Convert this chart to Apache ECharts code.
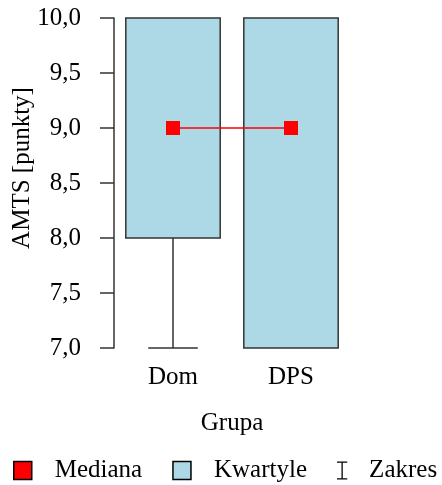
<!DOCTYPE html>
<html><head><meta charset="utf-8">
<script src="https://cdn.jsdelivr.net/npm/echarts@6/dist/echarts.min.js"></script>
<style>html,body{margin:0;padding:0;background:#fff}#c{width:442px;height:485px}</style>
</head><body><div id="c"></div>
<script>
var categories = ['Dom', 'DPS'];
var minVals = [7, 7];
var q1Vals = [8, 7];
var medianVals = [9, 9];
var q3Vals = [10, 10];
var maxVals = [10, 10];
var yTicks = { min: 7, max: 10, interval: 0.5 };

var FONT = 'Liberation Serif';
var FS = 25;
var chart = echarts.init(document.getElementById('c'), null, { renderer: 'canvas' });

var boxData = categories.map(function (c, i) { return [i, q1Vals[i], q3Vals[i]]; });
var whiskerData = categories.map(function (c, i) { return [i, minVals[i], q1Vals[i], q3Vals[i], maxVals[i]]; });

chart.setOption({
  animation: false,
  grid: { left: 114, right: 92, top: 18, bottom: 137, containLabel: false },
  xAxis: {
    type: 'category', data: categories,
    axisLine: { show: false }, axisTick: { show: false },
    axisLabel: { fontFamily: FONT, fontSize: FS, color: '#000', margin: 17 },
    name: 'Grupa', nameLocation: 'middle', nameGap: 63,
    nameTextStyle: { fontFamily: FONT, fontSize: FS, color: '#000' }
  },
  yAxis: {
    type: 'value', min: yTicks.min, max: yTicks.max, interval: yTicks.interval,
    splitLine: { show: false },
    axisLine: { show: true, lineStyle: { color: '#333', width: 1.5 } },
    axisTick: { show: true, length: 14, lineStyle: { color: '#333', width: 1.5 } },
    axisLabel: { fontFamily: FONT, fontSize: FS, color: '#000', margin: 33,
      formatter: function (v) { return v.toFixed(1).replace('.', ','); } }
  },
  legend: {
    left: 13, top: 458, padding: 0, itemWidth: 18, itemHeight: 18, itemGap: 30,
    textStyle: { fontFamily: FONT, fontSize: FS, color: '#000', padding: [0, 0, 0, 18] },
    data: [
      { name: 'Mediana', icon: 'rect', itemStyle: { color: '#ff0000', borderColor: '#000', borderWidth: 1.5 } },
      { name: 'Kwartyle', icon: 'rect', itemStyle: { color: '#add8e6', borderColor: '#000', borderWidth: 1.5 } },
      { name: 'Zakres', icon: 'path://M3,-1.5H15V0H9.75V18H15V19.5H3V18H8.25V0H3Z',
        itemStyle: { color: '#000', borderWidth: 0 }, textStyle: { padding: [0, 0, 0, 13] } }
    ]
  },
  graphic: [{
    type: 'text', x: 22, y: 168, rotation: Math.PI / 2,
    style: { text: 'AMTS [punkty]', fontFamily: FONT, fontSize: FS, fill: '#000', align: 'center', verticalAlign: 'middle' }
  }],
  series: [
    {
      name: 'Zakres', type: 'custom', data: whiskerData, z: 1,
      itemStyle: { color: '#000' },
      renderItem: function (params, api) {
        var x = api.value(0);
        var pMin = api.coord([x, api.value(1)]);
        var pQ1 = api.coord([x, api.value(2)]);
        var pQ3 = api.coord([x, api.value(3)]);
        var pMax = api.coord([x, api.value(4)]);
        var band = api.size([1, 0])[0];
        var half = band * 0.21;
        var children = [];
        var st = { stroke: '#333', lineWidth: 1.5 };
        if (api.value(1) < api.value(2)) {
          children.push({ type: 'line', shape: { x1: pMin[0], y1: pMin[1], x2: pQ1[0], y2: pQ1[1] }, style: st });
          children.push({ type: 'line', shape: { x1: pMin[0] - half, y1: pMin[1], x2: pMin[0] + half, y2: pMin[1] }, style: st });
        }
        if (api.value(4) > api.value(3)) {
          children.push({ type: 'line', shape: { x1: pMax[0], y1: pMax[1], x2: pQ3[0], y2: pQ3[1] }, style: st });
          children.push({ type: 'line', shape: { x1: pMax[0] - half, y1: pMax[1], x2: pMax[0] + half, y2: pMax[1] }, style: st });
        }
        return { type: 'group', children: children };
      }
    },
    {
      name: 'Kwartyle', type: 'custom', data: boxData, z: 2,
      itemStyle: { color: '#add8e6' },
      renderItem: function (params, api) {
        var x = api.value(0);
        var pLo = api.coord([x, api.value(1)]);
        var pHi = api.coord([x, api.value(2)]);
        var band = api.size([1, 0])[0];
        var w = band * 0.8;
        return {
          type: 'rect',
          shape: { x: pLo[0] - w / 2, y: pHi[1], width: w, height: pLo[1] - pHi[1] },
          style: { fill: '#add8e6', stroke: '#333', lineWidth: 1.5 }
        };
      }
    },
    {
      name: 'Mediana', type: 'line', data: medianVals, z: 3,
      symbol: 'rect', symbolSize: 14, showSymbol: true,
      lineStyle: { color: '#ff0000', width: 1.3 },
      itemStyle: { color: '#ff0000' }
    }
  ]
});
</script></body></html>
